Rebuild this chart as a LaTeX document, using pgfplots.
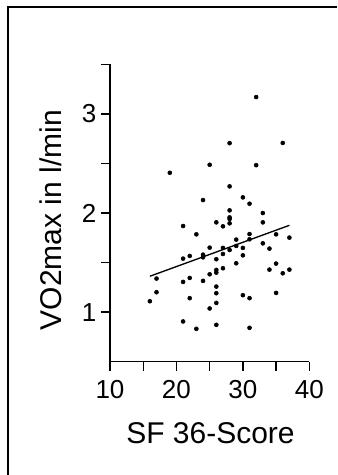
\documentclass[border=0pt]{standalone}
\usepackage{pgfplots}
\pgfplotsset{compat=1.18}
\usepackage{fontspec}
\setmainfont{Liberation Sans}
\begin{document}
\begin{tikzpicture}
\useasboundingbox (0,0) rectangle (252.75pt,356.25pt);
\draw[line width=1.5pt] (6.2pt,0pt) -- (6.2pt,350.8pt) -- (252.75pt,350.8pt);
\begin{axis}[
  at={(82.5pt,84.975pt)}, anchor=south west,
  scale only axis, width=149.5pt, height=223pt,
  axis lines=left,
  axis line style={-, line width=1pt, black},
  xmin=10, xmax=40, ymin=0.5, ymax=3.5,
  xtick={10,20,30,40}, minor xtick={15,25,35},
  ytick={1,2,3}, minor ytick={1.5,2.5,3.5},
  tick align=outside,
  major tick length=6.75pt, minor tick length=6.75pt,
  tick style={line width=1pt, black},
  /pgf/number format/assume math mode=true,
  ticklabel style={font=\fontsize{19.5}{21}\selectfont},
  xticklabel style={yshift=-4pt},
  xlabel={SF 36-Score},
  ylabel={VO2max in l/min},
  label style={font=\fontsize{22.5}{24}\selectfont},
  xlabel style={at={(axis description cs:0.504,-0.2744)}, anchor=base},
  ylabel style={at={(axis description cs:-0.296,0.476)}, anchor=center},
  clip=false,
]
\addplot[only marks, mark=*, mark size=1.5pt, black] coordinates {
(32,3.17) (28,2.705) (36,2.707) (25,2.487) (32,2.483) (19,2.406)
(28,2.269) (30,2.158) (24,2.131) (31,2.094) (28,2.027) (33,2.0)
(28,1.956) (28,1.94) (26,1.906) (28,1.896) (33,1.906) (21,1.869)
(27,1.866) (23,1.785) (31,1.788) (35,1.785) (37,1.752) (29,1.732)
(31,1.735) (33,1.694) (25,1.651) (27,1.648) (30,1.648) (28,1.627)
(29,1.668) (34,1.641) (24,1.580) (22,1.567) (24,1.553) (27,1.587)
(30,1.573) (21,1.540) (26,1.534) (29,1.493) (35,1.490) (17,1.339)
(22,1.345) (21,1.305) (24,1.315) (26,1.426) (26,1.399) (25,1.382)
(27,1.443) (34,1.429) (37,1.429) (36,1.392) (26,1.258) (17,1.201)
(26,1.191) (30,1.171) (35,1.194) (22,1.141) (31,1.141) (16,1.110)
(26,1.093) (25,1.037) (21,0.906) (26,0.872) (23,0.832) (31,0.842)
};
\addplot[black, line width=1pt] coordinates {(16,1.362) (37,1.876)};
\end{axis}
\end{tikzpicture}
\end{document}
